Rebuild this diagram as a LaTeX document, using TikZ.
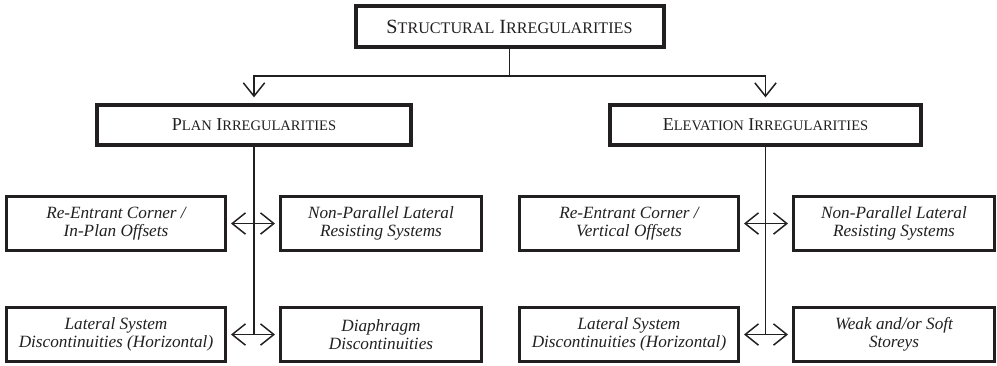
\documentclass[tikz,border=0pt]{standalone}
\usepackage{fontspec}
\setmainfont{Liberation Serif}
\usetikzlibrary{arrows.meta}
\definecolor{ink}{rgb}{0.13,0.12,0.12}
% faked small caps: first letter full size, rest at \scsz
\newcommand{\scword}[2]{#1{\fontsize{\scsz}{\scsz}\selectfont #2}}

\begin{document}
\begin{tikzpicture}[x=0.75pt,y=-0.75pt,
  mainbox/.style={draw=ink,text=ink,line width=3pt,inner sep=0pt,minimum height=30.5pt},
  subbox/.style={draw=ink,text=ink,line width=2.25pt,inner sep=0pt,minimum height=40.5pt,
    align=center,font=\itshape\fontsize{12.9}{13.5}\selectfont},
  conn/.style={draw=ink,line width=1.1pt},
  tip/.tip={Straight Barb[length=10pt,width=16pt]}]
\useasboundingbox (0,0) rectangle (997,365);
% top level
\node[mainbox,minimum width=231pt,font=\fontsize{15.1}{17}\selectfont\def\scsz{12.1}] (top) at (509.5,26.5)
  {\scword{S}{TRUCTURAL} \scword{I}{RREGULARITIES}};
\node[mainbox,minimum width=235.5pt,font=\fontsize{13.6}{15}\selectfont\def\scsz{10.9}] (plan) at (254,125)
  {\scword{P}{LAN} \scword{I}{RREGULARITIES}};
\node[mainbox,minimum width=233pt,font=\fontsize{13.6}{15}\selectfont\def\scsz{10.9}] (elev) at (765.5,125)
  {\scword{E}{LEVATION} \scword{I}{RREGULARITIES}};
\coordinate (bus) at (509.5,76);
\draw[conn] (top.south) -- (bus);
\draw[conn,-tip,shorten >=4pt] (bus) -| (plan.north);
\draw[conn,-tip,shorten >=4pt] (bus) -| (elev.north);
% plan irregularities
\node[subbox,minimum width=164.25pt] (pa) at (116,223.5) {Re-Entrant Corner /\\In-Plan Offsets};
\node[subbox,minimum width=150.75pt] (pb) at (381,223.5) {Non-Parallel Lateral\\Resisting Systems};
\node[subbox,minimum width=164.25pt] (pc) at (116,334.5) {Lateral System\\Discontinuities (Horizontal)};
\node[subbox,minimum width=150.75pt] (pd) at (381,334.5) {Diaphragm\\Discontinuities};
\draw[conn] (plan.south) -- (plan.south |- pc.east);
\draw[conn,tip-tip,shorten <=3pt,shorten >=3pt] (pa.east) -- (pb.west);
\draw[conn,tip-tip,shorten <=3pt,shorten >=3pt] (pc.east) -- (pd.west);
% elevation irregularities
\node[subbox,minimum width=164.25pt] (ea) at (629,223.5) {Re-Entrant Corner /\\Vertical Offsets};
\node[subbox,minimum width=150.75pt] (eb) at (894,223.5) {Non-Parallel Lateral\\Resisting Systems};
\node[subbox,minimum width=164.25pt] (ec) at (629,334.5) {Lateral System\\Discontinuities (Horizontal)};
\node[subbox,minimum width=150.75pt] (ed) at (894,334.5) {Weak and/or Soft\\Storeys};
\draw[conn] (elev.south) -- (elev.south |- ec.east);
\draw[conn,tip-tip,shorten <=3pt,shorten >=3pt] (ea.east) -- (eb.west);
\draw[conn,tip-tip,shorten <=3pt,shorten >=3pt] (ec.east) -- (ed.west);
\end{tikzpicture}
\end{document}
